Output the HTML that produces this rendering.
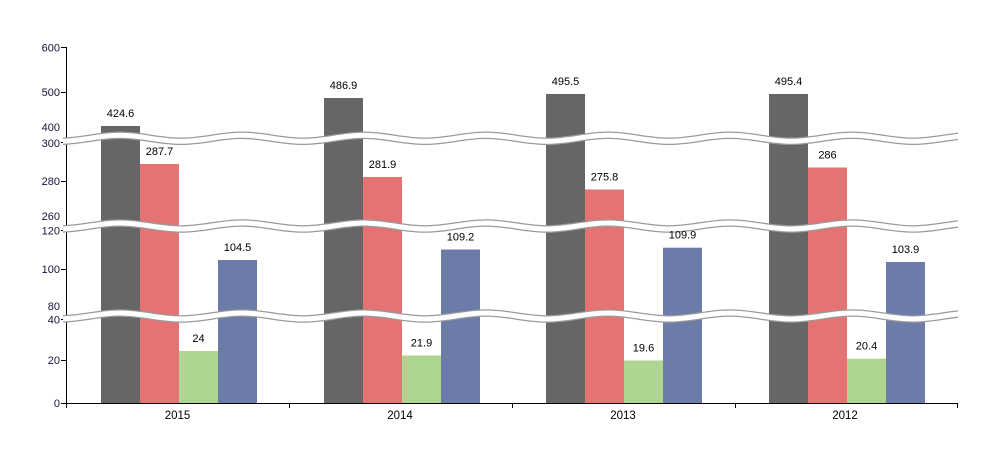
<!DOCTYPE html>
<html><head><meta charset="utf-8"><style>
html,body{margin:0;padding:0;background:#fff;}
svg{display:block;}
text{font-family:"Liberation Sans",Arial,sans-serif;}
</style></head><body>
<svg width="999" height="467" viewBox="0 0 999 467" xmlns="http://www.w3.org/2000/svg">
<defs>
<clipPath id="bc"><rect x="63" y="0" width="895" height="467"/></clipPath>
<path id="wave" d="M59,3 C81.2,3 97.8,-3 120,-3 S158.8,3 181,3 S219.8,-3 242,-3 S280.8,3 303,3 S341.8,-3 364,-3 S402.8,3 425,3 S463.8,-3 486,-3 S524.8,3 547,3 S585.8,-3 608,-3 S646.8,3 669,3 S707.8,-3 730,-3 S768.8,3 791,3 S829.8,-3 852,-3 S890.8,3 913,3 S951.8,-3 974,-3"/>
</defs>
<rect width="999" height="467" fill="#fff"/>

<!-- bars 2015 -->
<rect x="101" y="126" width="39" height="277" fill="#666666"/>
<rect x="140" y="164" width="39" height="239" fill="#e57373"/>
<rect x="179" y="351" width="39" height="52" fill="#aed592"/>
<rect x="218" y="260" width="39" height="143" fill="#6d7ba9"/>
<!-- 2014 -->
<rect x="324" y="98" width="39" height="305" fill="#666666"/>
<rect x="363" y="177" width="39" height="226" fill="#e57373"/>
<rect x="402" y="355.5" width="39" height="47.5" fill="#aed592"/>
<rect x="441" y="249.5" width="39" height="153.5" fill="#6d7ba9"/>
<!-- 2013 -->
<rect x="546" y="94" width="39" height="309" fill="#666666"/>
<rect x="585" y="189.5" width="39" height="213.5" fill="#e57373"/>
<rect x="624" y="360.5" width="39" height="42.5" fill="#aed592"/>
<rect x="663" y="247.7" width="39" height="155.3" fill="#6d7ba9"/>
<!-- 2012 -->
<rect x="769" y="94" width="39" height="309" fill="#666666"/>
<rect x="808" y="167.5" width="39" height="235.5" fill="#e57373"/>
<rect x="847" y="358.7" width="39" height="44.3" fill="#aed592"/>
<rect x="886" y="262" width="39" height="141" fill="#6d7ba9"/>

<!-- axes -->
<g stroke="#000" stroke-width="1">
<line x1="66.5" y1="47" x2="66.5" y2="404"/>
<line x1="66" y1="403.5" x2="958" y2="403.5"/>
<line x1="61" y1="47.5" x2="67" y2="47.5"/>
<line x1="61" y1="92.5" x2="67" y2="92.5"/>
<line x1="61" y1="142.5" x2="67" y2="142.5"/>
<line x1="61" y1="181.5" x2="67" y2="181.5"/>
<line x1="61" y1="230.5" x2="67" y2="230.5"/>
<line x1="61" y1="269.5" x2="67" y2="269.5"/>
<line x1="61" y1="319.5" x2="67" y2="319.5"/>
<line x1="61" y1="360.5" x2="67" y2="360.5"/>
<line x1="61" y1="403.5" x2="67" y2="403.5"/>
<line x1="66.5" y1="403" x2="66.5" y2="408"/>
<line x1="289.5" y1="403" x2="289.5" y2="408"/>
<line x1="512.5" y1="403" x2="512.5" y2="408"/>
<line x1="735.5" y1="403" x2="735.5" y2="408"/>
<line x1="957.5" y1="403" x2="957.5" y2="408"/>
</g>

<!-- scale breaks -->
<g clip-path="url(#bc)" fill="none">
<g transform="translate(0,138.3)"><use href="#wave" stroke="#9a9a9a" stroke-width="7.5"/><use href="#wave" stroke="#fff" stroke-width="5"/></g>
<g transform="translate(0,226)"><use href="#wave" stroke="#9a9a9a" stroke-width="7.5"/><use href="#wave" stroke="#fff" stroke-width="5"/></g>
<g transform="translate(0,316)"><use href="#wave" stroke="#9a9a9a" stroke-width="7.5"/><use href="#wave" stroke="#fff" stroke-width="5"/></g>
</g>

<!-- y tick labels -->
<g font-size="11" fill="#14143a" text-anchor="end">
<text x="60" y="51.5">600</text>
<text x="60" y="96">500</text>
<text x="60" y="131">400</text>
<text x="60" y="147">300</text>
<text x="60" y="185">280</text>
<text x="60" y="220">260</text>
<text x="60" y="234.3">120</text>
<text x="60" y="273">100</text>
<text x="60" y="310">80</text>
<text x="60" y="323.7">40</text>
<text x="60" y="364">20</text>
<text x="60" y="407">0</text>
</g>

<!-- x labels -->
<g font-size="11.5" fill="#000" text-anchor="middle">
<text x="177.5" y="419">2015</text>
<text x="400" y="419">2014</text>
<text x="623" y="419">2013</text>
<text x="845" y="419">2012</text>
</g>

<!-- value labels -->
<g font-size="11" fill="#000" text-anchor="middle">
<text x="120.5" y="117">424.6</text>
<text x="159.5" y="155">287.7</text>
<text x="198.5" y="342">24</text>
<text x="237.5" y="251">104.5</text>

<text x="343.5" y="89">486.9</text>
<text x="382.5" y="168">281.9</text>
<text x="421.5" y="346.5">21.9</text>
<text x="460.5" y="240.5">109.2</text>

<text x="565.5" y="85">495.5</text>
<text x="604.5" y="180.5">275.8</text>
<text x="643.5" y="351.5">19.6</text>
<text x="682.5" y="238.7">109.9</text>

<text x="788.5" y="85">495.4</text>
<text x="827.5" y="158.5">286</text>
<text x="866.5" y="349.7">20.4</text>
<text x="905.5" y="253">103.9</text>
</g>
</svg>
</body></html>
